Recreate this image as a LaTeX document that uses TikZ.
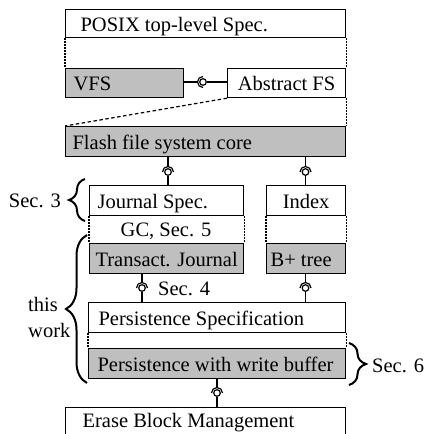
\documentclass[tikz,border=0pt]{standalone}
\usepackage{fontspec}
\setmainfont{Liberation Serif}
\usetikzlibrary{decorations.pathreplacing}
\definecolor{boxgray}{HTML}{BFBFBF}
% text inside a box of given width, with a left margin
\newcommand{\boxline}[3]{\makebox[#1][l]{\hspace*{#2}#3}}
% vertical required/provided interface: socket on the upper box, ball on the lower one
\newcommand{\plugdown}[3]{%
  \draw[link] (#1.south -| #2) -- ([yshift=5.5pt]#2.center);
  \draw[link] ([xshift=5.5pt]#2.center) arc[start angle=0, end angle=180, radius=5.5pt];
  \draw[link] (#2.south) -- (#3.north -| #2);}
\begin{document}
\begin{tikzpicture}[x=1pt, y=-1pt,
  font=\fontsize{20.5}{24}\selectfont,
  frame/.style={draw, line width=1.2pt, rectangle, anchor=north west,
                inner sep=0pt, text height=18pt, text depth=2pt},
  plain/.style={frame, fill=white},
  shaded/.style={frame, fill=boxgray},
  link/.style={line width=1.2pt},
  ball/.style={circle, draw, line width=1.2pt, fill=white,
               minimum size=6.6pt, inner sep=0pt},
  dots/.style={line width=1.2pt, dash pattern=on 1.4pt off 1.6pt},
  dashes/.style={line width=1.2pt, dash pattern=on 3.5pt off 2.5pt},
  curly/.style={decorate, decoration={brace, amplitude=#1}, line width=2pt},
  sidetext/.style={inner sep=0pt, anchor=base west}]

\useasboundingbox (0,0) rectangle (425,434);

% layers
\node[plain,  minimum height=28pt] (posix) at (65,9)
  {\boxline{280pt}{15pt}{POSIX top-level Spec.}};
\node[shaded, minimum height=29.5pt] (vfs) at (65,67.5)
  {\boxline{118pt}{8pt}{VFS}};
\node[plain,  minimum height=29.5pt] (abs) at (227,67.5)
  {\makebox[118pt]{Abstract FS}};
\node[shaded, minimum height=30pt] (core) at (65,126)
  {\boxline{280pt}{7pt}{Flash file system core}};
\node[plain,  minimum height=30pt] (journal) at (89,185)
  {\boxline{154pt}{8pt}{Journal Spec.}};
\node[plain,  minimum height=30pt] (index) at (266,185)
  {\makebox[79pt]{Index}};
\node[shaded, minimum height=30pt] (transact) at (89,243)
  {\boxline{154pt}{6pt}{Transact. Journal}};
\node[shaded, minimum height=30pt] (btree) at (266,243)
  {\boxline{79pt}{4pt}{B+ tree}};
\node[plain,  minimum height=30pt] (persspec) at (88,302)
  {\boxline{257pt}{10pt}{Persistence Specification}};
\node[shaded, minimum height=30pt] (wbuf) at (88,348)
  {\boxline{257pt}{9pt}{Persistence with write buffer}};
\node[plain,  minimum height=30pt, text height=12pt] (erase) at (65,407)
  {\boxline{280pt}{17pt}{Erase Block Management}};

% refinement relations
\draw[dots] (posix.south west) -- (vfs.north west);
\draw[dots] (posix.south east) -- (abs.north east);
\draw[dots] (abs.south east) -- (core.north east);
\draw[dashes] (abs.south west) -- (core.north west);
\draw[dots] (journal.south west) -- (transact.north west);
\draw[dots] (journal.south east) -- (transact.north east);
\draw[dots] (index.south west) -- (btree.north west);
\draw[dots] (index.south east) -- (btree.north east);
\draw[dots] (persspec.south west) -- (wbuf.north west);
\draw[dots] (persspec.south east) -- (wbuf.north east);

% interfaces
\node[ball] (k0) at (203,82) {};
\draw[link] (vfs.east |- k0) -- ([xshift=-5.5pt]k0.center);
\draw[link] ([yshift=5.5pt]k0.center) arc[start angle=90, end angle=270, radius=5.5pt];
\draw[link] (k0.east) -- (abs.west |- k0);

\node[ball] (k1) at (168,172) {};
\plugdown{core}{k1}{journal}
\node[ball] (k2) at (305.5,172) {};
\plugdown{core}{k2}{index}
\node[ball] (k3) at (142,288) {};
\plugdown{transact}{k3}{persspec}
\node[ball] (k4) at (305.5,288) {};
\plugdown{btree}{k4}{persspec}
\node[ball] (k5) at (217,393) {};
\plugdown{wbuf}{k5}{erase}

% section annotations
\node[sidetext, anchor=base] (gc) at (166,236) {GC, Sec. 5};
\node[sidetext] (s4) at (158,295) {Sec. 4};
\draw[curly=16pt] (85,221) -- (85,179);
\node[sidetext, anchor=base east] (s3) at (61,207) {Sec. 3};
\draw[curly=21pt] (87,383) -- (87,235);
\node[sidetext] (tw1) at (28,311) {this};
\node[sidetext] (tw2) at (28,337) {work};
\draw[curly=17pt] (349,343) -- (349,385);
\node[sidetext] (s6) at (372,372) {Sec. 6};
\end{tikzpicture}
\end{document}
